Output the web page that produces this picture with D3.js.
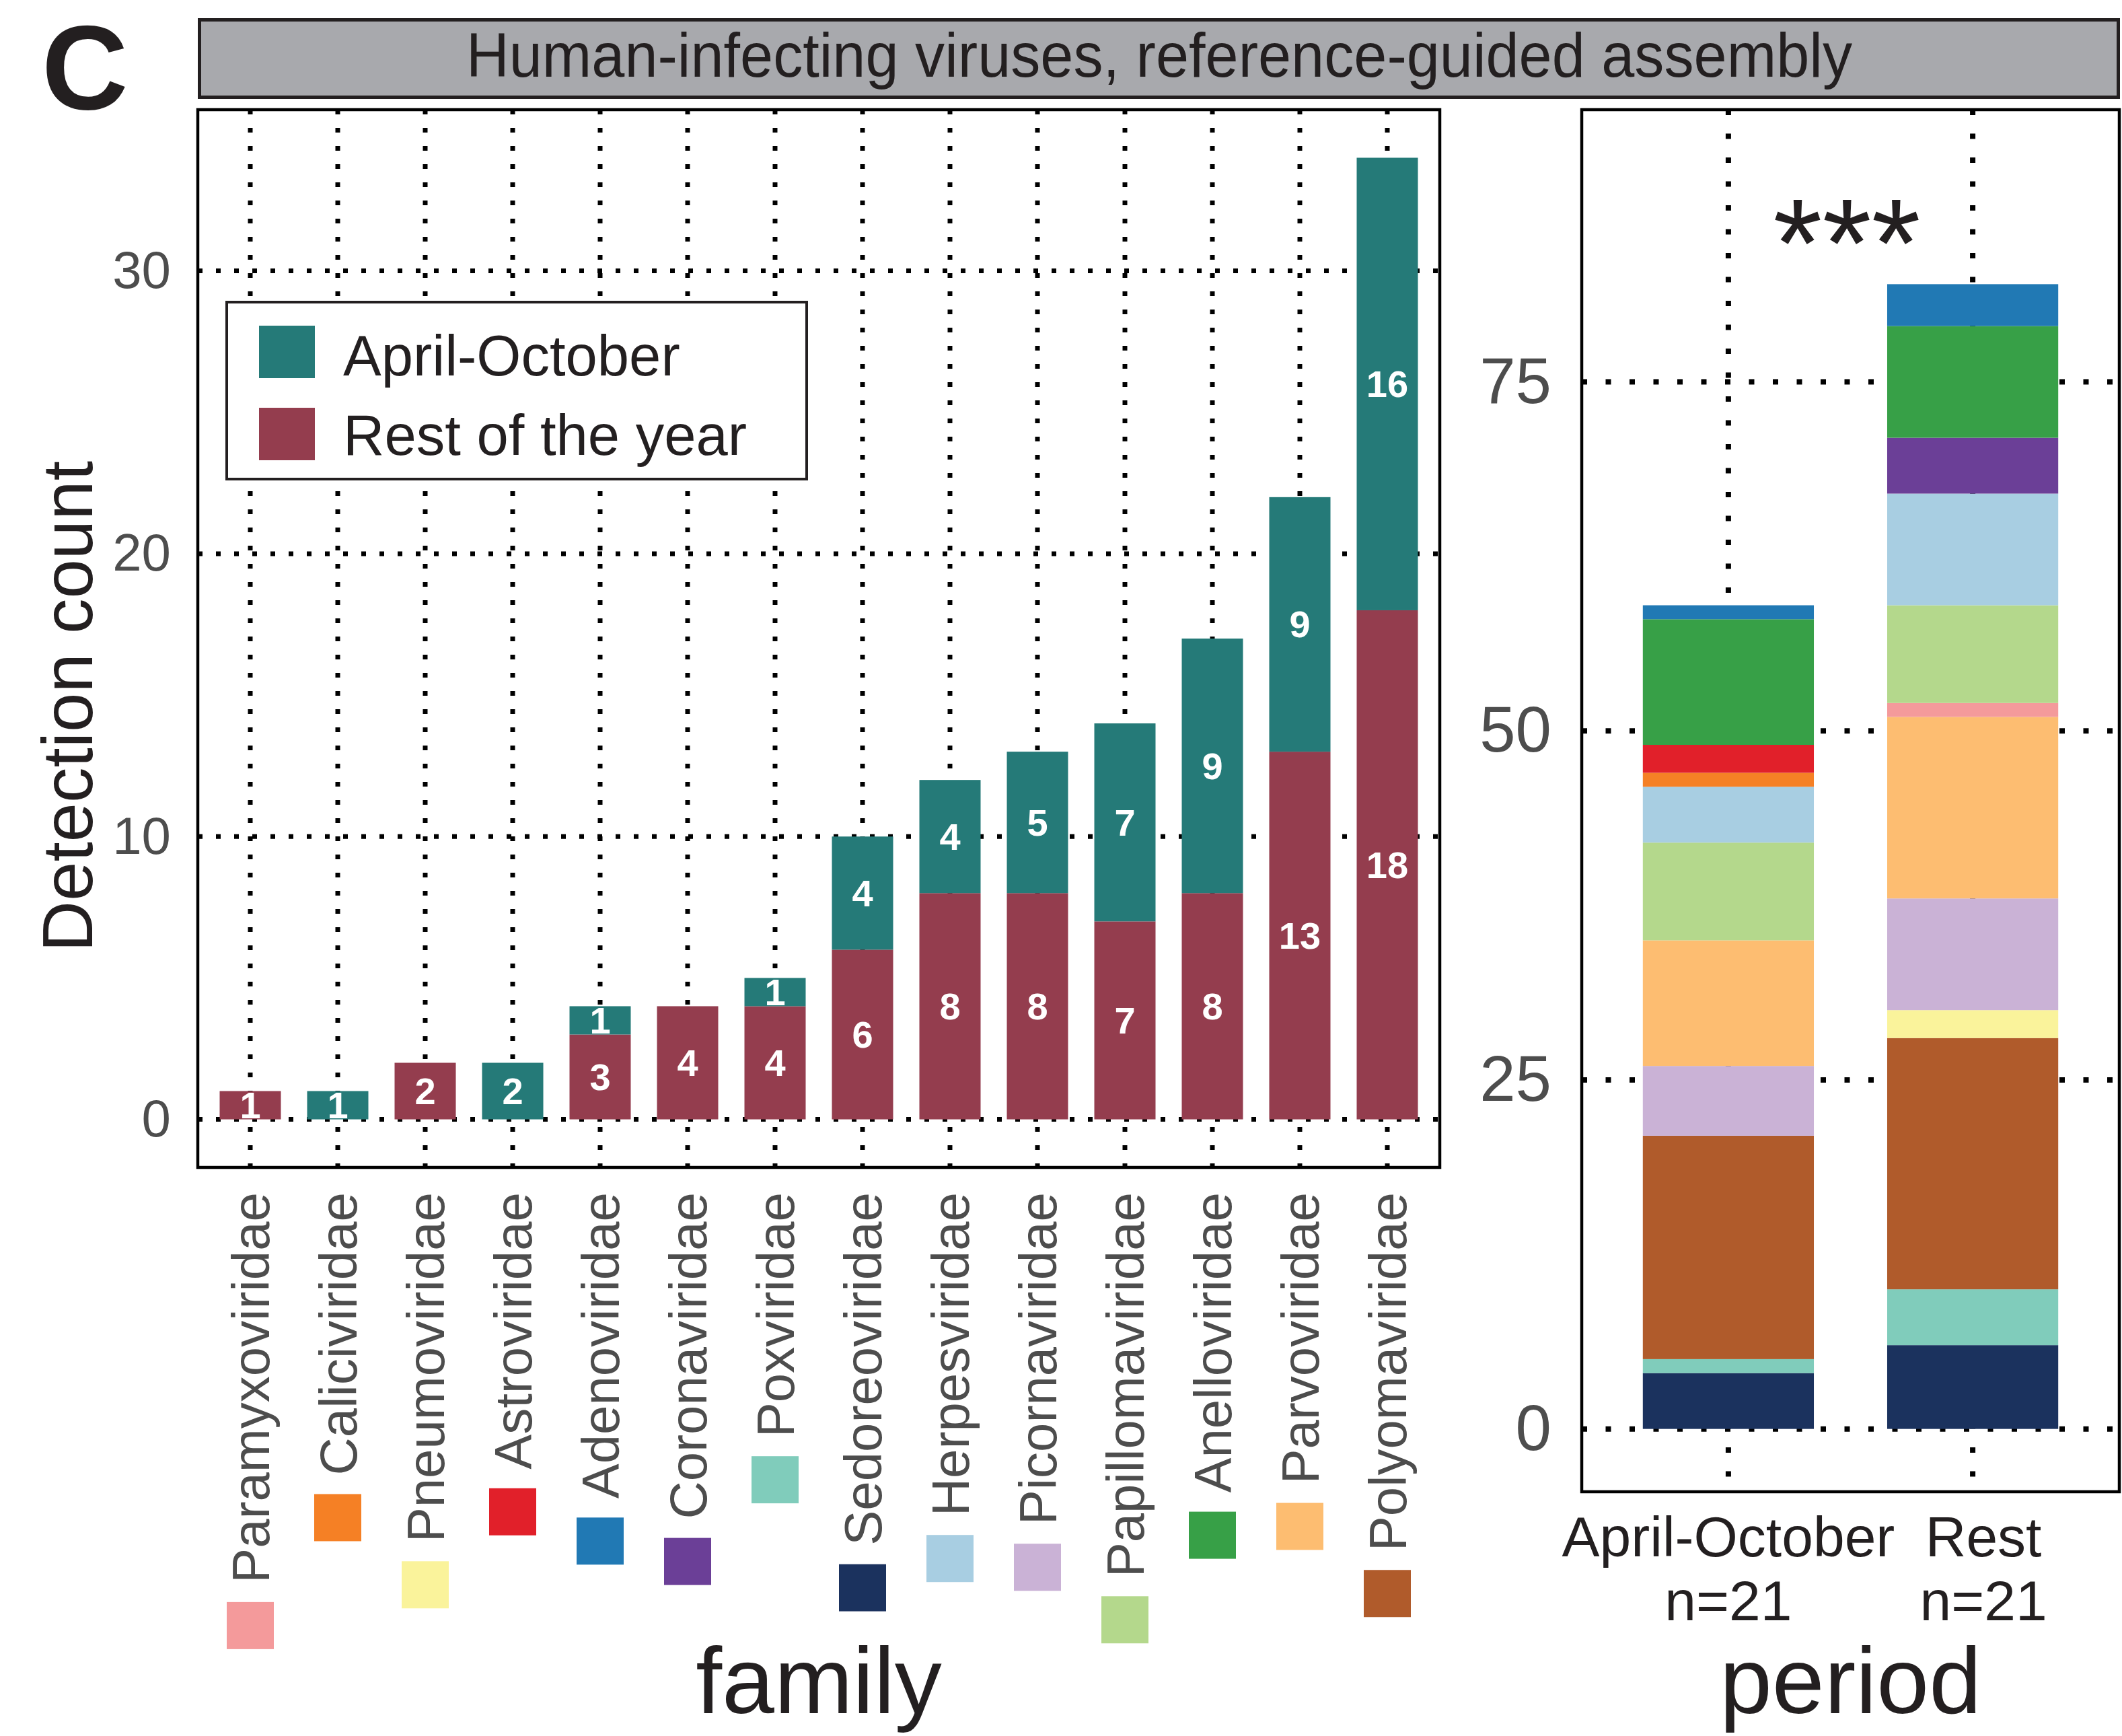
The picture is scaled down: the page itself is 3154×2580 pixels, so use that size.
<!DOCTYPE html>
<html lang="en">
<head>
<meta charset="utf-8">
<title>Human-infecting viruses, reference-guided assembly</title>
<script src="https://d3js.org/d3.v7.min.js"></script>
<style>
  body { margin: 0; background: #fff; }
  text { font-family: "Liberation Sans", Arial, Helvetica, sans-serif; }
</style>
</head>
<body>
<div id="chart"></div>
<script>
// families, in the order of the left panel (sorted by total detections)
const families = [
  "Paramyxoviridae", "Caliciviridae", "Pneumoviridae", "Astroviridae",
  "Adenoviridae", "Coronaviridae", "Poxviridae", "Sedoreoviridae",
  "Herpesviridae", "Picornaviridae", "Papillomaviridae", "Anelloviridae",
  "Parvoviridae", "Polyomaviridae"
];
const restOfYear   = [1, 0, 2, 0, 3, 4, 4, 6, 8, 8, 7, 8, 13, 18];
const aprilOctober = [0, 1, 0, 2, 1, 0, 1, 4, 4, 5, 7, 9, 9, 16];
const familyColors = [
  "#F49A9B", "#F58025", "#FAF39B", "#E1202A",
  "#2179B4", "#6B3F97", "#80CCBB", "#1B325E",
  "#A8CEE2", "#CAB2D6", "#B4D88C", "#37A047",
  "#FDBD71", "#B05B2B"
];
const seriesNames  = ["April-October", "Rest of the year"];
const seriesColors = ["#257A78", "#943D4E"];
const periods      = ["April-October", "Rest"];
const periodCounts = ["n=21", "n=21"];
const countTicks   = [0, 10, 20, 30];
const periodTicks  = [0, 25, 50, 75];

const W = 3154, H = 2580;
const ink = "#231F20", grey = "#4D4D4D";

const svg = d3.select("#chart").append("svg")
  .attr("width", W).attr("height", H);

// ---- panel letter + title strip
svg.append("text")
  .attr("x", 62).attr("y", 162)
  .attr("font-size", 178).attr("font-weight", "bold").attr("fill", ink)
  .text("C");

svg.append("rect")
  .attr("x", 296.5).attr("y", 29.5).attr("width", 2852).attr("height", 115)
  .attr("fill", "#A8A9AD").attr("stroke", ink).attr("stroke-width", 5);
svg.append("text")
  .attr("x", 1723).attr("y", 114).attr("text-anchor", "middle")
  .attr("font-size", 92).attr("fill", ink)
  .attr("textLength", 2060).attr("lengthAdjust", "spacingAndGlyphs")
  .text("Human-infecting viruses, reference-guided assembly");

// ---- left panel: detections per family
const L = { x0: 294, x1: 2140, y0: 163, y1: 1735 };
const x = d3.scaleBand().domain(families).range([L.x0, L.x1])
  .paddingInner(0.3).paddingOuter(0.25);
const y = d3.scaleLinear().domain([-1.7, 35.7]).range([L.y1, L.y0]);
const bw = x.bandwidth();

const left = svg.append("g");
left.selectAll("line.vg").data(families).join("line")
  .attr("x1", d => x(d) + bw / 2).attr("x2", d => x(d) + bw / 2)
  .attr("y1", L.y0).attr("y2", L.y1)
  .attr("stroke", "#000").attr("stroke-width", 7).attr("stroke-dasharray", "7,20");
left.selectAll("line.hg").data(countTicks).join("line")
  .attr("x1", L.x0).attr("x2", L.x1)
  .attr("y1", d => y(d)).attr("y2", d => y(d))
  .attr("stroke", "#000").attr("stroke-width", 7).attr("stroke-dasharray", "7,20");

const rows = families.map((f, i) => ({ family: f, rest: restOfYear[i], apr: aprilOctober[i] }));
const stacked = d3.stack().keys(["rest", "apr"])(rows);

stacked.forEach((layer, k) => {
  const g = left.append("g").attr("fill", seriesColors[1 - k]);
  g.selectAll("rect").data(layer).join("rect")
    .attr("x", d => x(d.data.family)).attr("width", bw)
    .attr("y", d => y(d[1])).attr("height", d => y(d[0]) - y(d[1]));
  left.append("g").selectAll("text").data(layer.filter(d => d[1] > d[0])).join("text")
    .attr("x", d => x(d.data.family) + bw / 2)
    .attr("y", d => y((d[0] + d[1]) / 2))
    .attr("text-anchor", "middle").attr("dominant-baseline", "central")
    .attr("font-size", 56).attr("font-weight", "bold").attr("fill", "#fff")
    .text(d => d[1] - d[0]);
});

left.append("rect")
  .attr("x", L.x0).attr("y", L.y0).attr("width", L.x1 - L.x0).attr("height", L.y1 - L.y0)
  .attr("fill", "none").attr("stroke", "#000").attr("stroke-width", 4.5);

// y axis
const yAxis = svg.append("g").attr("transform", `translate(${L.x0},0)`)
  .call(d3.axisLeft(y).tickValues(countTicks).tickSize(0).tickPadding(40));
yAxis.select(".domain").remove();
yAxis.selectAll("text").attr("font-size", 78).attr("fill", grey);

svg.append("text")
  .attr("transform", "translate(137,1050) rotate(-90)")
  .attr("text-anchor", "middle").attr("font-size", 105).attr("fill", ink)
  .text("Detection count");

// x axis (rotated family names + colour key squares)
const xAxis = svg.append("g").attr("transform", `translate(0,${L.y1})`)
  .call(d3.axisBottom(x).tickSize(0).tickPadding(0));
xAxis.select(".domain").remove();
xAxis.selectAll("text")
  .attr("transform", "rotate(-90)")
  .attr("text-anchor", "end").attr("x", -37).attr("y", 0).attr("dy", "0.36em")
  .attr("font-size", 78).attr("fill", grey);
const famColor = d3.scaleOrdinal(families, familyColors);
xAxis.selectAll(".tick").each(function (d) {
  const len = d3.select(this).select("text").node().getComputedTextLength();
  d3.select(this).append("rect")
    .attr("x", -35).attr("y", 37 + len + 28)
    .attr("width", 70).attr("height", 70)
    .attr("fill", famColor(d));
});

svg.append("text")
  .attr("x", (L.x0 + L.x1) / 2).attr("y", 2546).attr("text-anchor", "middle")
  .attr("font-size", 140).attr("fill", ink).text("family");

// legend
const lg = svg.append("g");
lg.append("rect").attr("x", 337).attr("y", 449).attr("width", 862).attr("height", 263)
  .attr("fill", "#fff").attr("stroke", ink).attr("stroke-width", 4);
seriesNames.forEach((s, i) => {
  lg.append("rect").attr("x", 385).attr("y", 484 + i * 122).attr("width", 83).attr("height", 78)
    .attr("fill", seriesColors[i]);
  lg.append("text").attr("x", 510).attr("y", 558 + i * 118)
    .attr("font-size", 85).attr("fill", ink).text(s);
});

// ---- right panel: composition per period
const R = { x0: 2351, x1: 3150, y0: 163, y1: 2217 };
const xr = d3.scaleBand().domain(periods).range([R.x0, R.x1])
  .paddingInner(0.3).paddingOuter(0.25);
const yr = d3.scaleLinear().domain([-4.5, 94.5]).range([R.y1, R.y0]);
const bwr = xr.bandwidth();

const right = svg.append("g");
right.selectAll("line.vg").data(periods).join("line")
  .attr("x1", d => xr(d) + bwr / 2).attr("x2", d => xr(d) + bwr / 2)
  .attr("y1", R.y0).attr("y2", R.y1)
  .attr("stroke", "#000").attr("stroke-width", 8).attr("stroke-dasharray", "8,27.5");
right.selectAll("line.hg").data(periodTicks).join("line")
  .attr("x1", R.x0).attr("x2", R.x1)
  .attr("y1", d => yr(d)).attr("y2", d => yr(d))
  .attr("stroke", "#000").attr("stroke-width", 8).attr("stroke-dasharray", "8,27.5");

// alphabetical from top, so the bottom layer is the last name alphabetically
const keysBottomUp = families.slice().sort(d3.descending);
const periodRows = periods.map((p, i) => {
  const o = { period: p };
  families.forEach((f, j) => { o[f] = i === 0 ? aprilOctober[j] : restOfYear[j]; });
  return o;
});
const pStack = d3.stack().keys(keysBottomUp)(periodRows);
right.selectAll("g.layer").data(pStack).join("g")
  .attr("fill", d => famColor(d.key))
  .selectAll("rect").data(d => d).join("rect")
  .attr("x", d => xr(d.data.period)).attr("width", bwr)
  .attr("y", d => yr(d[1])).attr("height", d => yr(d[0]) - yr(d[1]));

right.append("rect")
  .attr("x", R.x0).attr("y", R.y0).attr("width", R.x1 - R.x0).attr("height", R.y1 - R.y0)
  .attr("fill", "none").attr("stroke", "#000").attr("stroke-width", 4.5);

right.append("text")
  .attr("x", 2745).attr("y", yr(81.8)).attr("text-anchor", "middle")
  .attr("font-size", 188).attr("fill", ink).text("***");

const yrAxis = svg.append("g").attr("transform", `translate(${R.x0},0)`)
  .call(d3.axisLeft(yr).tickValues(periodTicks).tickSize(0).tickPadding(45));
yrAxis.select(".domain").remove();
yrAxis.selectAll("text").attr("font-size", 96).attr("fill", grey);

const xrAxis = svg.append("g").attr("transform", `translate(0,${R.y1})`)
  .call(d3.axisBottom(xr).tickSize(0).tickPadding(0));
xrAxis.select(".domain").remove();
xrAxis.selectAll("text").each(function (d, i) {
  const t = d3.select(this).text(null).attr("y", null).attr("dy", null)
    .attr("font-size", 84).attr("fill", ink);
  t.append("tspan").attr("x", i === 1 ? 16 : 0).attr("y", 96).text(d);
  t.append("tspan").attr("x", i === 1 ? 16 : 0).attr("y", 191).text(periodCounts[i]);
});

svg.append("text")
  .attr("x", (R.x0 + R.x1) / 2).attr("y", 2546).attr("text-anchor", "middle")
  .attr("font-size", 140).attr("fill", ink).text("period");
</script>
</body>
</html>
